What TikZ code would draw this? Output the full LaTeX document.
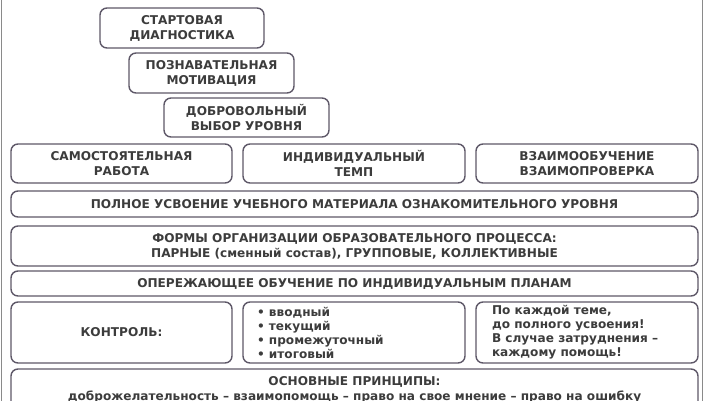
\documentclass[tikz,border=0pt]{standalone}
\usepackage{fontspec}
\setmainfont{DejaVu Sans}
\definecolor{textcol}{HTML}{3C3C3C}
\definecolor{bordercol}{HTML}{5E5868}
\definecolor{framecol}{HTML}{8A8A8A}
\begin{document}
\begin{tikzpicture}[x=1pt,y=-1pt,
  box/.style={draw=bordercol, line width=1.4pt, rounded corners=7pt, inner sep=0pt,
    align=center, text=textcol, font=\bfseries\fontsize{12.1}{15}\selectfont},
  lbox/.style={box, align=left}]
\useasboundingbox (0,0) rectangle (709,400);
\clip (0,0) rectangle (709,400);
\fill[white] (0,0) rectangle (709,400);
\draw[framecol, line width=0.8pt] (1.5,-1) -- (1.5,401);
\draw[framecol, line width=0.8pt] (702.5,-1) -- (702.5,401);
% staircase
\node[box, minimum width=164, minimum height=40] (diag) at (182,28) {СТАРТОВАЯ\\ДИАГНОСТИКА};
\node[box, minimum width=165, minimum height=40] (motiv) at (211.5,73) {ПОЗНАВАТЕЛЬНАЯ\\МОТИВАЦИЯ};
\node[box, minimum width=165, minimum height=39] (vybor) at (246.5,117.5) {ДОБРОВОЛЬНЫЙ\\ВЫБОР УРОВНЯ};
% row of three
\node[box, minimum width=221, minimum height=39] (samost) at (121.5,163.5) {САМОСТОЯТЕЛЬНАЯ\\РАБОТА};
\node[box, minimum width=222, minimum height=39] (temp) at (354,163.5) {ИНДИВИДУАЛЬНЫЙ\\ТЕМП};
\node[box, minimum width=222, minimum height=39] (vzaim) at (587,163.5) {ВЗАИМООБУЧЕНИЕ\\ВЗАИМОПРОВЕРКА};
% full width
\node[box, minimum width=687, minimum height=26] (polnoe) at (354.5,204) {ПОЛНОЕ УСВОЕНИЕ УЧЕБНОГО МАТЕРИАЛА ОЗНАКОМИТЕЛЬНОГО УРОВНЯ};
\node[box, minimum width=687, minimum height=40] (formy) at (354.5,246) {ФОРМЫ ОРГАНИЗАЦИИ ОБРАЗОВАТЕЛЬНОГО ПРОЦЕССА:\\ПАРНЫЕ (сменный состав), ГРУППОВЫЕ, КОЛЛЕКТИВНЫЕ};
\node[box, minimum width=687, minimum height=25] (operezh) at (354.5,283.5) {ОПЕРЕЖАЮЩЕЕ ОБУЧЕНИЕ ПО ИНДИВИДУАЛЬНЫМ ПЛАНАМ};
% control row
\node[box, minimum width=221, minimum height=61] (kontrol) at (121.5,332.5) {КОНТРОЛЬ:};
\node[box, minimum width=222, minimum height=61] (vidy) at (354,332.5) {};
\node[lbox, anchor=west, draw=none, font=\bfseries\fontsize{12.1}{14}\selectfont] (vidytext) at ([xshift=14]vidy.west) {\textbullet\ вводный\\\textbullet\ текущий\\\textbullet\ промежуточный\\\textbullet\ итоговый};
\node[box, minimum width=222, minimum height=61] (pomosh) at (587,332.5) {};
\node[lbox, anchor=west, draw=none, font=\bfseries\fontsize{12.1}{14}\selectfont] (pomoshtext) at ([xshift=16]pomosh.west) {По каждой теме,\\до полного усвоения!\\В случае затруднения –\\каждому помощь!};
% principles
\node[box, minimum width=687, minimum height=42] (princ) at (354.5,390) {ОСНОВНЫЕ ПРИНЦИПЫ:\\доброжелательность – взаимопомощь – право на свое мнение – право на ошибку};
\end{tikzpicture}
\end{document}
